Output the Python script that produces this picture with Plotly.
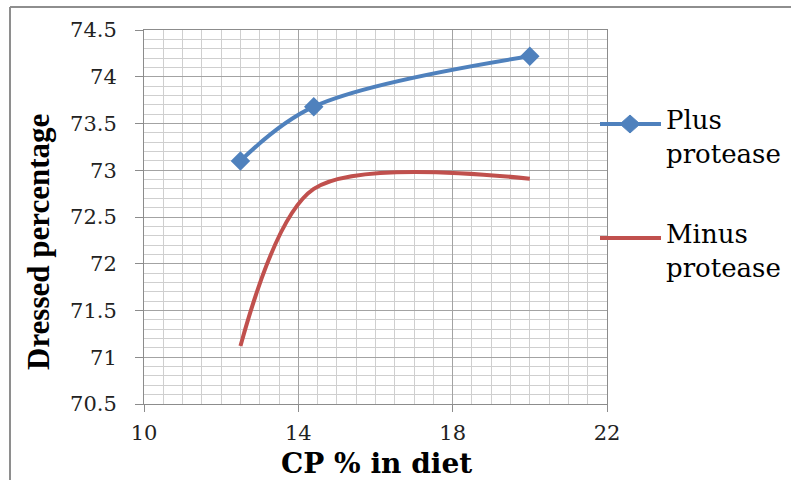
import plotly.graph_objects as go

# Crude protein level in the diet (%) and dressed percentage per treatment
cp_levels = [12.5, 14.4, 20.0]
plus_protease = [73.10, 73.68, 74.22]
minus_protease = [71.12, 72.80, 72.91]

series_labels = ["Plus<br>protease", "Minus<br>protease"]
x_ticks = [10, 14, 18, 22]
y_ticks = [70.5, 71, 71.5, 72, 72.5, 73, 73.5, 74, 74.5]
y_tick_text = ["70.5", "71", "71.5", "72", "72.5", "73", "73.5", "74", "74.5"]

BLUE = "#4F81BD"
RED = "#C0504D"
AXIS_GREY = "#8C8C8C"
MAJOR_GRID = "#A3A3A3"
MINOR_GRID = "#CFCFCF"

W, H = 791, 480
M_L, M_R, M_T, M_B = 144, 184, 30, 76
PW, PH = W - M_L - M_R, H - M_T - M_B


def px_x(px):
    return (px - M_L) / PW


def px_y(py):
    return (H - M_B - py) / PH


tick_font = dict(family="DejaVu Serif", size=21, color="#222222")

fig = go.Figure()
fig.add_trace(go.Scatter(
    x=cp_levels, y=plus_protease, mode="lines+markers",
    line=dict(color=BLUE, width=4, shape="spline", smoothing=1.0),
    marker=dict(symbol="diamond", size=15, color=BLUE),
    showlegend=False,
))
fig.add_trace(go.Scatter(
    x=cp_levels, y=minus_protease, mode="lines",
    line=dict(color=RED, width=4, shape="spline", smoothing=0.85),
    showlegend=False,
))

fig.update_xaxes(
    range=[10, 22], tickvals=x_ticks, ticks="outside", ticklen=7,
    tickcolor=AXIS_GREY, showline=True, linecolor=AXIS_GREY, linewidth=1,
    mirror=True, showgrid=True, gridcolor=MAJOR_GRID, gridwidth=1,
    zeroline=False, tickfont=tick_font, ticklabelstandoff=3,
    minor=dict(tick0=10, dtick=0.5, showgrid=True, gridcolor=MINOR_GRID,
               gridwidth=1, ticks=""),
)
fig.update_yaxes(
    range=[70.5, 74.5], tickvals=y_ticks, ticktext=y_tick_text,
    ticks="outside", ticklen=8, tickcolor=AXIS_GREY, showline=True,
    linecolor=AXIS_GREY, linewidth=1, mirror=True, showgrid=True,
    gridcolor=MAJOR_GRID, gridwidth=1, zeroline=False, tickfont=tick_font,
    ticklabelstandoff=14,
    minor=dict(tick0=70.5, dtick=0.1, showgrid=True, gridcolor=MINOR_GRID,
               gridwidth=1, ticks=""),
)

shapes = [
    # outer frame (top and left edges)
    dict(type="line", xref="paper", yref="paper", x0=px_x(10), x1=px_x(W + 5),
         y0=px_y(7), y1=px_y(7), line=dict(color="#8E8E8E", width=2)),
    dict(type="line", xref="paper", yref="paper", x0=px_x(10), x1=px_x(10),
         y0=px_y(7), y1=px_y(H + 5), line=dict(color="#8E8E8E", width=2)),
]

annotations = [
    dict(text="<b>Dressed percentage</b>", textangle=-90, xref="paper",
         yref="paper", x=px_x(38), y=px_y(242), xanchor="center",
         yanchor="middle", showarrow=False,
         font=dict(family="Liberation Serif", size=31, color="#000000")),
    dict(text="<b>CP % in diet</b>", xref="paper", yref="paper",
         x=px_x(376), y=px_y(463), xanchor="center", yanchor="middle",
         showarrow=False,
         font=dict(family="DejaVu Serif", size=28, color="#000000")),
]

# Legend: sample line, optional marker and two-line label per series
legend_rows = [(124, BLUE, True), (238, RED, False)]
for (ly, colour, with_marker), label in zip(legend_rows, series_labels):
    shapes.append(dict(type="line", xref="paper", yref="paper",
                       x0=px_x(600), x1=px_x(661), y0=px_y(ly), y1=px_y(ly),
                       line=dict(color=colour, width=4)))
    if with_marker:
        shapes.append(dict(type="path", xref="paper", yref="paper",
                           xsizemode="pixel", ysizemode="pixel",
                           xanchor=px_x(630), yanchor=px_y(ly),
                           path="M -10 0 L 0 9 L 10 0 L 0 -9 Z",
                           fillcolor=colour, line=dict(color=colour, width=1)))
    annotations.append(dict(text=label, xref="paper", yref="paper",
                            x=px_x(664), y=px_y(ly - 21), xanchor="left",
                            yanchor="top", align="left", showarrow=False,
                            font=dict(family="DejaVu Serif", size=26,
                                      color="#000000")))

fig.update_layout(
    width=W, height=H, margin=dict(l=M_L, r=M_R, t=M_T, b=M_B),
    paper_bgcolor="white", plot_bgcolor="white",
    shapes=shapes, annotations=annotations,
)

fig.write_html("out.html")
